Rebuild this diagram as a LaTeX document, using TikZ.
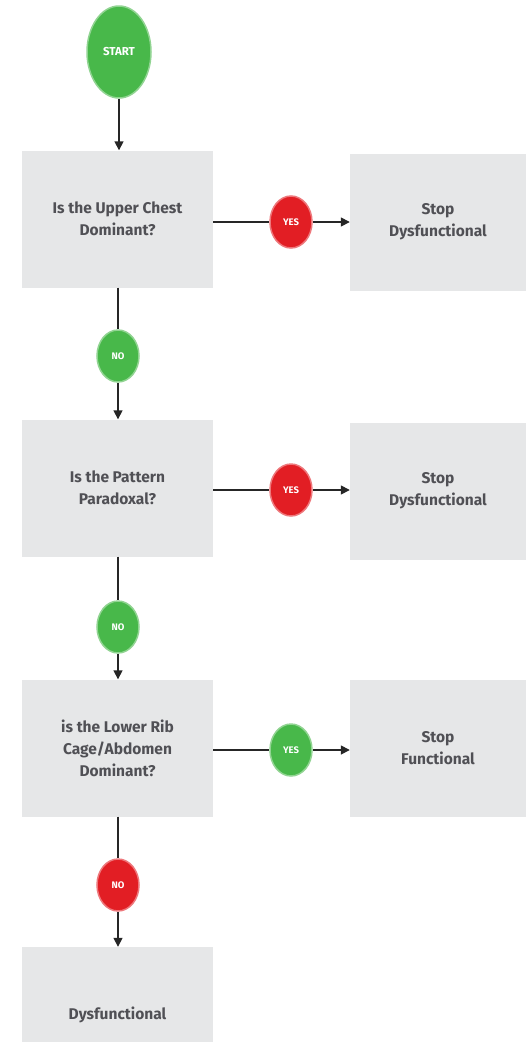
\documentclass[tikz,border=0pt]{standalone}
\usepackage{fontspec}
\setmainfont{Fira Sans}
\usetikzlibrary{arrows.meta,shapes.geometric}
\definecolor{boxgray}{RGB}{230,231,232}
\definecolor{txtgray}{RGB}{80,80,85}
\definecolor{okgreen}{RGB}{72,184,74}
\definecolor{badred}{RGB}{226,30,36}
\tikzset{
  stepbox/.style={fill=boxgray, draw=none, minimum width=191pt, minimum height=137pt, inner sep=0pt,
    align=center, font=\fontsize{15.5}{22}\selectfont\bfseries, text=txtgray},
  endbox/.style={stepbox, minimum width=176pt},
  badge/.style={ellipse, draw=#1!60, line width=1.5pt, fill=#1, text=white, inner sep=0pt,
    minimum width=42pt, minimum height=52pt, font=\fontsize{9.5}{10}\selectfont\bfseries},
  conn/.style={draw=black!85, line width=1.6pt},
  arr/.style={conn, -{Triangle[length=9pt,width=9pt]}}
}
\begin{document}
\begin{tikzpicture}[x=1pt,y=-1pt]
\useasboundingbox (0,0) rectangle (526,1042);
\node[badge=okgreen, minimum width=64pt, minimum height=92pt, font=\fontsize{11.5}{12}\selectfont\bfseries] (start) at (119,52) {START};
\node[stepbox] (q1) at (117.5,219) {Is the Upper Chest\\Dominant?};
\node[endbox] (e1) at (438,222) {Stop\\Dysfunctional};
\node[stepbox] (q2) at (117.5,488) {Is the Pattern\\Paradoxal?};
\node[endbox] (e2) at (438,491) {Stop\\Dysfunctional};
\node[stepbox] (q3) at (117.5,748) {is the Lower Rib\\Cage/Abdomen\\Dominant?};
\node[endbox] (e3) at (438,748) {Stop\\Functional};
\node[stepbox, minimum height=100pt] (q4) at (117.5,997) {};
\node[font=\fontsize{15.5}{22}\selectfont\bfseries, text=txtgray] (d4) at (117.5,1015) {Dysfunctional};

\draw[arr] (start.south) -- (q1.north -| start);

\node[badge=badred] (y1) at (291,222) {YES};
\draw[conn] (q1.east |- y1) -- (y1.west);
\draw[arr] (y1.east) -- (e1.west |- y1);

\node[badge=okgreen] (n1) at (118,356) {NO};
\draw[conn] (q1.south -| n1) -- (n1.north);
\draw[arr] (n1.south) -- (q2.north -| n1);

\node[badge=badred] (y2) at (291,490) {YES};
\draw[conn] (q2.east |- y2) -- (y2.west);
\draw[arr] (y2.east) -- (e2.west |- y2);

\node[badge=okgreen] (n2) at (118,627) {NO};
\draw[conn] (q2.south -| n2) -- (n2.north);
\draw[arr] (n2.south) -- (q3.north -| n2);

\node[badge=okgreen] (y3) at (291,750) {YES};
\draw[conn] (q3.east |- y3) -- (y3.west);
\draw[arr] (y3.east) -- (e3.west |- y3);

\node[badge=badred] (n3) at (118,885) {NO};
\draw[conn] (q3.south -| n3) -- (n3.north);
\draw[arr] (n3.south) -- (q4.north -| n3);
\end{tikzpicture}
\end{document}
